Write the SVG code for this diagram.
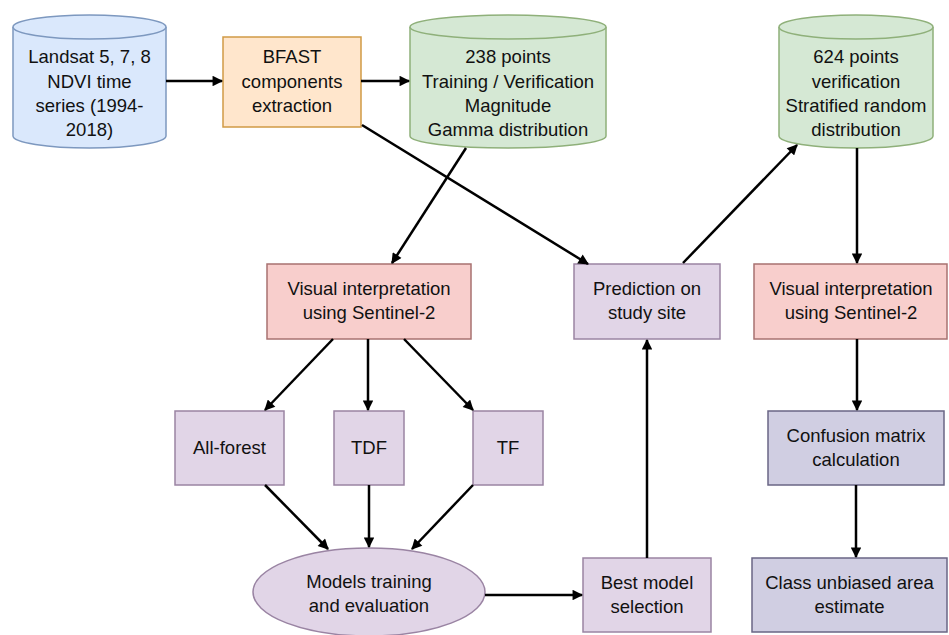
<svg xmlns="http://www.w3.org/2000/svg" width="949" height="635" viewBox="0 0 949 635">
<defs>
<marker id="ah" viewBox="0 0 10 10" refX="9" refY="5" markerWidth="4.6" markerHeight="4.2" orient="auto" markerUnits="strokeWidth">
<path d="M0,0 L10,5 L0,10 Z" fill="#000"/>
</marker>
<style>
text{font-family:"Liberation Sans",Arial,sans-serif;font-size:18.5px;fill:#111;text-anchor:middle}
.blue{fill:#dae8fc;stroke:#7d98bf;stroke-width:1.5}
.green{fill:#d5e8d4;stroke:#8fb07a;stroke-width:1.5}
.orange{fill:#ffe6cc;stroke:#d19a45;stroke-width:1.5}
.red{fill:#f8cecc;stroke:#a87270;stroke-width:1.5}
.purple{fill:#e1d5e7;stroke:#9a84a3;stroke-width:1.5}
.slate{fill:#d0cee2;stroke:#6a6685;stroke-width:1.5}
.edge{stroke:#000;stroke-width:2.5;fill:none;marker-end:url(#ah)}
</style>
</defs>
<rect width="949" height="635" fill="#fff"/>
<g id="landsat">
<path class="blue" d="M13,27 A76.5,12 0 0 1 166,27 V136 A76.5,12 0 0 1 13,136 Z"/>
<path class="blue" fill="none" d="M13,27 A76.5,12 0 0 0 166,27"/>
<text x="89.5" y="63">Landsat 5, 7, 8</text>
<text x="89.5" y="88">NDVI time</text>
<text x="89.5" y="112">series (1994-</text>
<text x="89.5" y="136">2018)</text>
</g>
<g id="bfast">
<rect class="orange" x="223" y="37" width="138" height="90"/>
<text x="292" y="63">BFAST</text>
<text x="292" y="88">components</text>
<text x="292" y="112">extraction</text>
</g>
<g id="pts238">
<path class="green" d="M410,27 A98,12 0 0 1 606,27 V136 A98,12 0 0 1 410,136 Z"/>
<path class="green" fill="none" d="M410,27 A98,12 0 0 0 606,27"/>
<text x="508" y="63">238 points</text>
<text x="508" y="88">Training / Verification</text>
<text x="508" y="112">Magnitude</text>
<text x="508" y="136">Gamma distribution</text>
</g>
<g id="pts624">
<path class="green" d="M779,27 A77,12 0 0 1 933,27 V136 A77,12 0 0 1 779,136 Z"/>
<path class="green" fill="none" d="M779,27 A77,12 0 0 0 933,27"/>
<text x="856" y="63">624 points</text>
<text x="856" y="88">verification</text>
<text x="856" y="112">Stratified random</text>
<text x="856" y="136">distribution</text>
</g>
<g id="visual1">
<rect class="red" x="267" y="264" width="204" height="75"/>
<text x="369" y="295">Visual interpretation</text>
<text x="369" y="319">using Sentinel-2</text>
</g>
<g id="prediction">
<rect class="purple" x="574" y="264" width="146" height="75"/>
<text x="647" y="295">Prediction on</text>
<text x="647" y="319">study site</text>
</g>
<g id="visual2">
<rect class="red" x="754" y="264" width="193" height="75"/>
<text x="851" y="295">Visual interpretation</text>
<text x="851" y="319">using Sentinel-2</text>
</g>
<g id="allforest">
<rect class="purple" x="175" y="411" width="109" height="74"/>
<text x="229.5" y="454">All-forest</text>
</g>
<g id="tdf">
<rect class="purple" x="334" y="411" width="70" height="74"/>
<text x="369" y="454">TDF</text>
</g>
<g id="tf">
<rect class="purple" x="473" y="411" width="70" height="74"/>
<text x="508" y="454">TF</text>
</g>
<g id="confusion">
<rect class="slate" x="768" y="411" width="176" height="74"/>
<text x="856" y="442">Confusion matrix</text>
<text x="856" y="466">calculation</text>
</g>
<g id="models">
<ellipse class="purple" cx="369" cy="592" rx="116" ry="44"/>
<text x="369" y="588">Models training</text>
<text x="369" y="612">and evaluation</text>
</g>
<g id="best">
<rect class="purple" x="583" y="558" width="128" height="74"/>
<text x="647" y="589">Best model</text>
<text x="647" y="613">selection</text>
</g>
<g id="classarea">
<rect class="slate" x="752" y="558" width="195" height="74"/>
<text x="849.5" y="589">Class unbiased area</text>
<text x="849.5" y="613">estimate</text>
</g>
<g id="connectors">
<line class="edge" x1="166" y1="81" x2="222" y2="81"/>
<line class="edge" x1="361" y1="81" x2="409" y2="81"/>
<line class="edge" x1="362" y1="125" x2="588" y2="264"/>
<line class="edge" x1="466" y1="148" x2="392" y2="263"/>
<line class="edge" x1="683" y1="263" x2="797" y2="145"/>
<line class="edge" x1="857" y1="148" x2="857" y2="263"/>
<line class="edge" x1="333" y1="339" x2="265" y2="410"/>
<line class="edge" x1="368" y1="339" x2="368" y2="410"/>
<line class="edge" x1="404" y1="339" x2="473" y2="410"/>
<line class="edge" x1="265" y1="485" x2="328" y2="549"/>
<line class="edge" x1="369" y1="485" x2="369" y2="547"/>
<line class="edge" x1="473" y1="485" x2="412" y2="549"/>
<line class="edge" x1="485" y1="595" x2="582" y2="595"/>
<line class="edge" x1="647" y1="558" x2="647" y2="340"/>
<line class="edge" x1="857" y1="339" x2="857" y2="410"/>
<line class="edge" x1="856" y1="485" x2="856" y2="557"/>
</g>
</svg>
